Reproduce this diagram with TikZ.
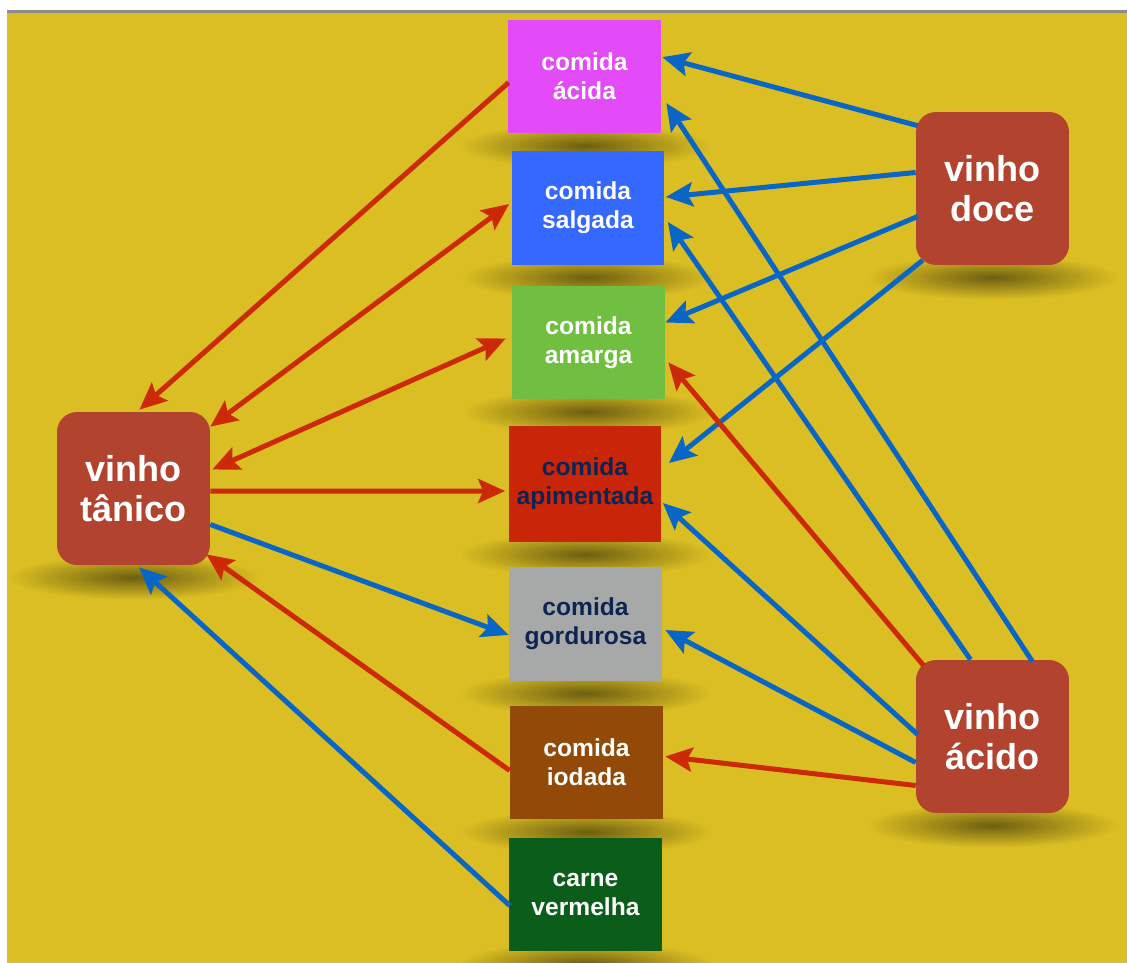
\documentclass[tikz,border=0pt]{standalone}
\usepackage{fontspec}
\setmainfont{Liberation Sans}
\usetikzlibrary{arrows.meta,calc,fadings,backgrounds}

\definecolor{fundo}{HTML}{DBBE23}
\definecolor{borda}{HTML}{8C8C8C}
\definecolor{vinhocor}{HTML}{B2432F}
\definecolor{linhavermelha}{HTML}{CC2A06}
\definecolor{linhaazul}{HTML}{0A66C4}
\definecolor{corAcida}{HTML}{E34BF8}
\definecolor{corSalgada}{HTML}{3568FE}
\definecolor{corAmarga}{HTML}{70BF40}
\definecolor{corApimentada}{HTML}{C92508}
\definecolor{corGordurosa}{HTML}{A6A9A8}
\definecolor{corIodada}{HTML}{934A09}
\definecolor{corCarne}{HTML}{0B5D1A}
\definecolor{textoescuro}{HTML}{0D2452}

\tikzfading[name=sombra, inner color=transparent!0, outer color=transparent!100]

\begin{document}
\begin{tikzpicture}[
		x=0.02cm, y=-0.02cm,
		ponta/.tip={Stealth[length=0.54cm, width=0.48cm, inset=0.1cm]},
		comida/.style={
			rectangle,
			minimum width=3.06cm,
			minimum height=2.28cm,
			inner sep=0pt,
			align=center,
			text=white,
			font=\bfseries\fontsize{14}{16.5}\selectfont
		},
		vinho/.style={
			rectangle,
			rounded corners=0.4cm,
			fill=vinhocor,
			minimum size=3.06cm,
			inner sep=0pt,
			align=center,
			text=white,
			font=\bfseries\fontsize{20.5}{23}\selectfont
		},
		vermelha/.style={-ponta, draw=linhavermelha, line width=0.1cm},
		azul/.style={-ponta, draw=linhaazul, line width=0.1cm},
		sombra/.style={black, opacity=0.5, path fading=sombra}
		]
		
		\useasboundingbox (0,0) rectangle (1127,963);
		
		\node[comida, fill=corAcida] (acida) at (584.5,76.5) {comida\\ácida};
		\node[comida, fill=corSalgada] (salgada) at (588,208) {comida\\salgada};
		\node[comida, fill=corAmarga] (amarga) at (588.5,342.5) {comida\\amarga};
		\node[comida, fill=corApimentada, text=textoescuro, minimum height=2.32cm] (apimentada) at (585,484) {comida\\apimentada};
		\node[comida, fill=corGordurosa, text=textoescuro] (gordurosa) at (585.5,624) {comida\\gordurosa};
		\node[comida, fill=corIodada] (iodada) at (586.5,762.5) {comida\\iodada};
		\node[comida, fill=corCarne] (carne) at (585.5,894.5) {carne\\vermelha};
		
		\node[vinho] (tanico) at (133.5,488.5) {vinho\\tânico};
		\node[vinho] (doce) at (992.5,188.5) {vinho\\doce};
		\node[vinho] (acido) at (992.5,736.5) {vinho\\ácido};
		
		\begin{pgfonlayer}{background}
			\fill[white] (0,0) rectangle (1127,963);
			\fill[borda] (7,10) rectangle (1127,13);
			\fill[fundo] (7,13) rectangle (1127,963);
			\foreach \n in {acida,salgada,amarga,apimentada,gordurosa,iodada,carne,tanico,doce,acido}
				\fill[sombra] ($(\n.south)+(-125,-10)$) rectangle ($(\n.south)+(125,34)$);
		\end{pgfonlayer}
		
		%Linhas vinho tanico
		\draw[vermelha] ($(acida.west)+(1,6)$) -- ($(tanico.north)+(6,-2)$);
		\draw[vermelha, ponta-ponta] ($(tanico.north east)+(0,15)$) -- ($(salgada.west)+(-2,-4)$);
		\draw[vermelha, ponta-ponta] ($(tanico.east)+(2,-19)$) -- ($(amarga.west)+(-6,-4)$);
		\draw[vermelha] ($(tanico.east)+(0,2.5)$) -- ($(apimentada.west)+(-3,7)$);
		\draw[azul] ($(tanico.east)+(0,36)$) -- ($(gordurosa.west)+(0,11)$);
		\draw[vermelha] ($(iodada.west)+(0,8)$) -- ($(tanico.south east)+(-4,-11)$);
		\draw[azul] ($(carne.west)+(1,11)$) -- ($(tanico.south)+(5.5,2)$);
		
		%Linhas vinho doce
		\draw[azul] ($(doce.north west)+(2,14)$) -- ($(acida.north east)+(1,38)$);
		\draw[azul] ($(doce.west)+(0,-16)$) -- ($(salgada.east)+(1,-11)$);
		\draw[azul] ($(doce.west)+(2,28)$) -- ($(amarga.east)+(0,-20)$);
		\draw[azul] ($(doce.south west)+(7,-5)$) -- ($(apimentada.east)+(7,-21)$);
		
		%Linhas vinho acido
		\draw[azul] ($(acido.north)+(40,2)$) -- ($(acida.north east)+(5,84)$);
		\draw[azul] ($(acido.north)+(-22,0)$) -- ($(salgada.east)+(3,14)$);
		\draw[vermelha] ($(acido.north west)+(8,6)$) -- ($(amarga.east)+(3,20)$);
		\draw[azul] ($(acido.west)+(2,-2)$) -- ($(apimentada.east)+(1,19)$);
		\draw[azul] ($(acido.west)+(0,26)$) -- ($(gordurosa.east)+(3,6)$);
		\draw[vermelha] ($(acido.west)+(0,49)$) -- ($(iodada.east)+(2,-6)$);
		
	\end{tikzpicture}
\end{document}
